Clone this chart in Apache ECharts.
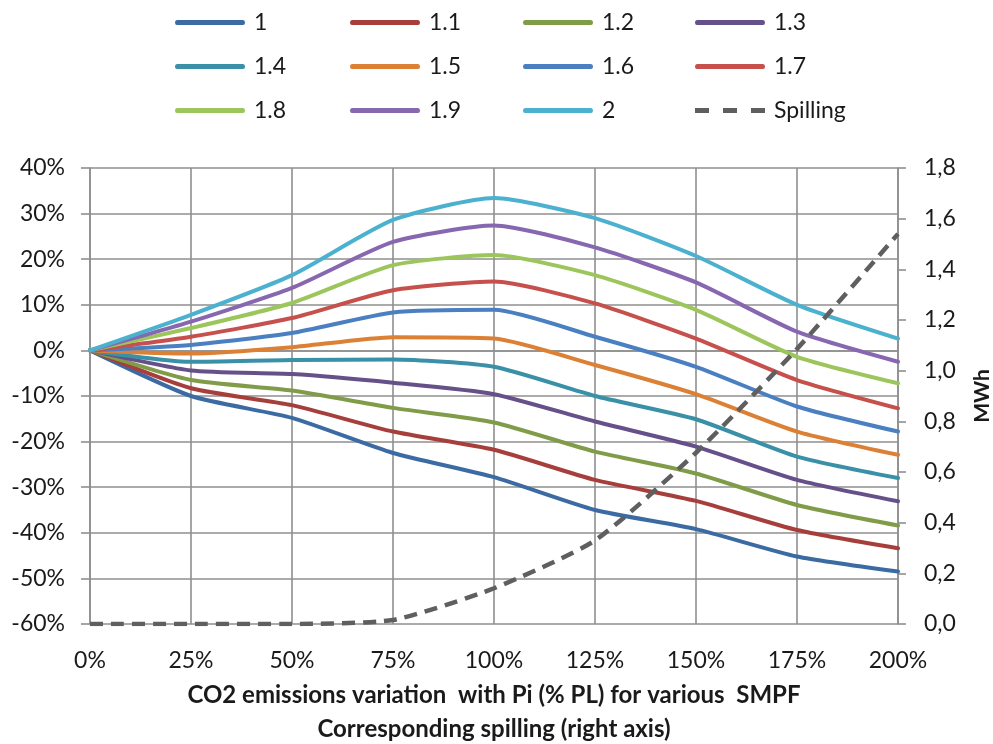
<!DOCTYPE html>
<html>
<head>
<meta charset="utf-8">
<script src="https://cdn.jsdelivr.net/npm/echarts@6/dist/echarts.min.js"></script>
<style>
  html, body { margin: 0; padding: 0; background: #ffffff; }
  #chart { width: 993px; height: 744px; }
</style>
</head>
<body>
<div id="chart"></div>
<script>
// Pi as a share of PL (x axis)
const piLabels = ['0%', '25%', '50%', '75%', '100%', '125%', '150%', '175%', '200%'];

// CO2 emissions variation (%) for each SMPF
const smpf10 = [0, -10.0, -14.8, -22.5, -27.8, -35.0, -39.2, -45.2, -48.5];
const smpf11 = [0, -8.3, -12.0, -17.8, -21.8, -28.4, -33.0, -39.4, -43.4];
const smpf12 = [0, -6.5, -8.8, -12.6, -15.8, -22.2, -27.0, -33.9, -38.4];
const smpf13 = [0, -4.4, -5.2, -7.1, -9.6, -15.6, -21.1, -28.4, -33.1];
const smpf14 = [0, -2.5, -2.1, -2.0, -3.6, -10.0, -15.1, -23.3, -28.0];
const smpf15 = [0, -0.7, 0.7, 2.9, 2.6, -3.2, -9.6, -17.8, -22.9];
const smpf16 = [0, 1.2, 3.8, 8.3, 8.9, 3.0, -3.6, -12.3, -17.8];
const smpf17 = [0, 3.0, 7.1, 13.2, 15.1, 10.3, 2.6, -6.5, -12.7];
const smpf18 = [0, 4.9, 10.4, 18.7, 20.9, 16.5, 8.9, -1.4, -7.2];
const smpf19 = [0, 6.3, 13.7, 23.8, 27.4, 22.6, 14.9, 4.1, -2.5];
const smpf20 = [0, 7.8, 16.5, 28.6, 33.4, 29.0, 20.7, 10.0, 2.6];

// Corresponding spilling (MWh, right axis)
const spilling = [0, 0, 0, 0.016, 0.141, 0.33, 0.676, 1.086, 1.54];

const smpfNames = ['1', '1.1', '1.2', '1.3', '1.4', '1.5', '1.6', '1.7', '1.8', '1.9', '2'];
const smpfValues = [smpf10, smpf11, smpf12, smpf13, smpf14, smpf15, smpf16, smpf17, smpf18, smpf19, smpf20];
const smpfColors = ['#3C6BA3', '#A63F3C', '#809C48', '#66508A', '#3A90A6', '#DB8035',
                    '#4A7FC1', '#C6504C', '#9CC55B', '#8767B0', '#4BB1CF'];
const spillingName = 'Spilling';
const spillingColor = '#5F5F5F';

const FONT = 'Lato, "Liberation Sans", sans-serif';
const GRID_COLOR = '#8f8f8f';
const TEXT_COLOR = '#1a1a1a';

const series = smpfNames.map((name, i) => ({
  name: name,
  type: 'line',
  yAxisIndex: 0,
  data: smpfValues[i],
  symbol: 'none',
  smooth: 0.2,
  color: smpfColors[i],
  lineStyle: { width: 4, color: smpfColors[i], cap: 'round', join: 'round' }
}));
series.push({
  name: spillingName,
  type: 'line',
  yAxisIndex: 1,
  data: spilling,
  symbol: 'none',
  smooth: 0.2,
  color: spillingColor,
  lineStyle: { width: 4.5, color: spillingColor, type: [13, 8] },
  z: 5
});

// Legend keys: a solid bar for the SMPF series, three dashes for spilling
const solidKey = 'path://M2,0 L68,0 Q70,0 70,2.5 Q70,5 68,5 L2,5 Q0,5 0,2.5 Q0,0 2,0 Z';
const dashedKey = 'path://M0,0 L14,0 L14,5 L0,5 Z M28,0 L42,0 L42,5 L28,5 Z M56,0 L70,0 L70,5 L56,5 Z';

// Legend laid out as four columns of three rows
const legendColumns = [
  ['1', '1.4', '1.8'],
  ['1.1', '1.5', '1.9'],
  ['1.2', '1.6', '2'],
  ['1.3', '1.7', spillingName]
];
const legendLefts = [175, 350, 523, 695];
const legends = legendColumns.map((names, c) => ({
  data: names.map(n => ({ name: n, icon: n === spillingName ? dashedKey : solidKey })),
  orient: 'vertical',
  left: legendLefts[c],
  top: 9,
  padding: 0,
  itemWidth: 70,
  itemHeight: 5,
  itemGap: 17,
  selectedMode: false,
  textStyle: { fontFamily: FONT, fontSize: 23, color: TEXT_COLOR, lineHeight: 27, padding: [0, 0, 0, 4] }
}));

const option = {
  animation: false,
  backgroundColor: '#ffffff',
  legend: legends,
  grid: { left: 90, right: 95, top: 168, bottom: 120, containLabel: false, outerBoundsMode: 'none' },
  xAxis: {
    type: 'category',
    data: piLabels,
    boundaryGap: false,
    axisLine: { show: true, lineStyle: { color: GRID_COLOR, width: 1.6 } },
    axisTick: { show: false },
    axisLabel: { margin: 25, fontFamily: FONT, fontSize: 23, color: TEXT_COLOR },
    splitLine: { show: true, lineStyle: { color: GRID_COLOR, width: 1.6 } },
    name: 'CO2 emissions variation  with Pi (% PL) for various  SMPF\nCorresponding spilling (right axis)',
    nameLocation: 'middle',
    nameGap: 54,
    nameTextStyle: { fontFamily: FONT, fontSize: 24, fontWeight: 'bold', color: TEXT_COLOR, lineHeight: 34 }
  },
  yAxis: [
    {
      type: 'value',
      min: -60,
      max: 40,
      interval: 10,
      position: 'left',
      axisLine: { show: true, lineStyle: { color: GRID_COLOR, width: 1.6 } },
      axisTick: { show: true, length: 9, lineStyle: { color: GRID_COLOR, width: 1.6 } },
      axisLabel: { margin: 25, formatter: '{value}%', fontFamily: FONT, fontSize: 23, color: TEXT_COLOR },
      splitLine: { show: true, lineStyle: { color: GRID_COLOR, width: 1.6 } }
    },
    {
      type: 'value',
      min: 0,
      max: 1.8,
      interval: 0.2,
      position: 'right',
      axisLine: { show: true, lineStyle: { color: GRID_COLOR, width: 1.6 } },
      axisTick: { show: true, length: 8, lineStyle: { color: GRID_COLOR, width: 1.6 } },
      axisLabel: {
        margin: 26,
        fontFamily: FONT, fontSize: 23, color: TEXT_COLOR,
        formatter: v => v.toFixed(1).replace('.', ',')
      },
      splitLine: { show: false },
      name: 'MWh',
      nameLocation: 'middle',
      nameRotate: 90,
      nameGap: 74,
      nameTextStyle: { fontFamily: FONT, fontSize: 21, fontWeight: 'bold', color: TEXT_COLOR }
    }
  ],
  series: series
};

const chart = echarts.init(document.getElementById('chart'), null, { renderer: 'canvas' });
chart.setOption(option);
</script>
</body>
</html>
